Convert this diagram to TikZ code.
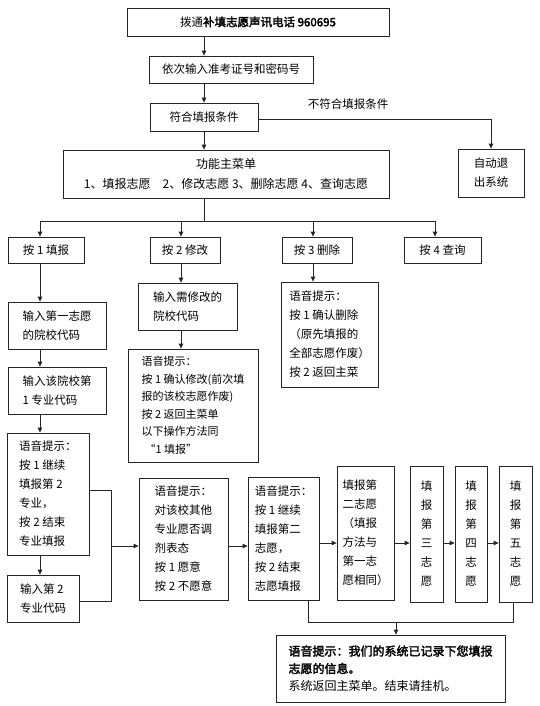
\documentclass[tikz,border=0pt]{standalone}
\usepackage{fontspec}
\setmainfont{Noto Sans CJK SC}[AutoFakeBold=2.5]
\usetikzlibrary{arrows.meta}
\begin{document}
\begin{tikzpicture}[x=1pt,y=-1pt,
  box/.style={draw=black!85, line width=0.8pt, inner sep=0pt, font=\fontsize{11.5}{19}\selectfont},
  lbl/.style={inner sep=0pt, font=\fontsize{11.5}{19}\selectfont},
  arr/.style={draw=black!85, -{Triangle[length=5pt,width=4.5pt]}, line width=0.8pt},
  ln/.style={draw=black!85, line width=0.8pt}]
\useasboundingbox[fill=white] (0,0) rectangle (540,706);

% top chain
\node[box,minimum width=262pt,minimum height=28pt] (top) at (258,22) {拨通\textbf{补填志愿声讯电话 960695}};
\node[box,minimum width=164pt,minimum height=27pt] (input) at (231,69.5) {依次输入准考证号和密码号};
\node[box,minimum width=108pt,minimum height=28pt] (ok) at (204,117) {符合填报条件};
\node[box,minimum width=66pt,minimum height=48pt,align=center] (exit) at (491,173) {自动退\\出系统};
\node[lbl] (nolabel) at (348,104) {不符合填报条件};
\node[box,minimum width=326pt,minimum height=48pt,align=center,font=\fontsize{12}{20}\selectfont] (menu) at (226,174) {功能主菜单\\1、填报志愿\quad 2、修改志愿 3、删除志愿 4、查询志愿};

\draw[arr] (ok |- top.south) -- (ok |- input.north);
\draw[arr] (ok |- input.south) -- (ok.north);
\draw[arr] (ok.south) -- (ok.south |- menu.north);
\coordinate (turn) at (491,119);
\draw[arr] (ok.east |- turn) -- (turn) -- (exit.north);

% buttons
\node[box,minimum width=76pt,minimum height=26pt] (b1) at (46,250) {按 1 填报};
\node[box,minimum width=70pt,minimum height=26pt] (b2) at (185,250) {按 2 修改};
\node[box,minimum width=70pt,minimum height=26pt] (b3) at (317,250) {按 3 删除};
\node[box,minimum width=77pt,minimum height=26pt] (b4) at (442.5,250) {按 4 查询};
\coordinate (split) at (204,221);
\coordinate (h1) at (40,221);
\coordinate (h2) at (181,221);
\coordinate (h3) at (313,221);
\coordinate (h4) at (435,221);
\draw[ln] (split |- menu.south) -- (split);
\draw[ln] (h1) -- (h4);
\draw[arr] (h1) -- (h1 |- b1.north);
\draw[arr] (h2) -- (h2 |- b2.north);
\draw[arr] (h3) -- (h3 |- b3.north);
\draw[arr] (h4) -- (h4 |- b4.north);

% column 1
\node[box,minimum width=98pt,minimum height=47pt,align=left] (c1a) at (57,325.5) {输入第一志愿\\的院校代码};
\node[box,minimum width=98pt,minimum height=47pt,align=left] (c1b) at (57,390.5) {输入该院校第\\1 专业代码};
\node[box,minimum width=82pt,minimum height=122pt,align=left] (c1c) at (48,494) {语音提示：\\按 1 继续\\填报第 2\\专业，\\按 2 结束\\专业填报};
\node[box,minimum width=72pt,minimum height=47pt,align=left] (c1d) at (43,598.5) {输入第 2\\专业代码};
\draw[arr] (b1.south -| h1) -- (c1a.north -| h1);
\draw[arr] (c1a.south -| h1) -- (c1b.north -| h1);
\draw[arr] (c1b.south -| h1) -- (c1c.north -| h1);
\draw[arr] (c1c.south -| h1) -- (c1d.north -| h1);

\node[box,minimum width=89pt,minimum height=122pt,align=left] (c1e) at (183.5,539) {语音提示：\\对该校其他\\专业愿否调\\剂表态\\按 1 愿意\\按 2 不愿意};
\coordinate (j1) at (111,490);
\coordinate (j2) at (111,601);
\coordinate (j3) at (111,546);
\draw[ln] (c1c.east |- j1) -- (j1) -- (j2) -- (c1d.east |- j2);
\draw[arr] (j3) -- (c1e.west |- j3);

\node[box,minimum width=71pt,minimum height=123pt,align=left] (c1f) at (283.5,538.5) {语音提示：\\按 1 继续\\填报第二\\志愿，\\按 2 结束\\志愿填报};
\coordinate (r1) at (0,546);
\draw[arr] (c1e.east |- r1) -- (c1f.west |- r1);

\node[box,minimum width=57pt,minimum height=134pt,align=left] (c2) at (365.5,533) {填报第\\二志愿\\（填报\\方法与\\第一志\\愿相同）};
\node[box,minimum width=33pt,minimum height=136pt,align=center] (c3) at (426.5,534) {填\\报\\第\\三\\志\\愿};
\node[box,minimum width=32pt,minimum height=136pt,align=center] (c4) at (471,534) {填\\报\\第\\四\\志\\愿};
\node[box,minimum width=33pt,minimum height=136pt,align=center] (c5) at (515.5,534) {填\\报\\第\\五\\志\\愿};
\coordinate (r2) at (0,543);
\draw[arr] (c1f.east |- r2) -- (c2.west |- r2);
\draw[arr] (c2.east |- r2) -- (c3.west |- r2);
\draw[arr] (c3.east |- r2) -- (c4.west |- r2);
\draw[arr] (c4.east |- r2) -- (c5.west |- r2);

\node[box,minimum width=229pt,minimum height=67pt,align=left,font=\fontsize{12}{17.5}\selectfont] (fin) at (390.5,668.5) {\textbf{语音提示：我们的系统已记录下您填报}\\\textbf{志愿的信息。}\\系统返回主菜单。结束请挂机。};
\coordinate (bl) at (308,622);
\coordinate (br) at (513,622);
\coordinate (bm) at (396,622);
\draw[ln] (bl |- c1f.south) -- (bl) -- (br) -- (br |- c5.south);
\draw[arr] (bm) -- (bm |- fin.north);

% modify column
\node[box,minimum width=99pt,minimum height=47pt,align=left] (m1) at (187.5,306.5) {输入需修改的\\院校代码};
\node[box,minimum width=130pt,minimum height=113pt,align=left,font=\fontsize{11}{17.5}\selectfont] (m2) at (193,405.5) {语音提示：\\按 1 确认修改(前次填\\报的该校志愿作废)\\按 2 返回主菜单\\以下操作方法同\\\hspace*{3pt}“1 填报”};
\draw[arr] (b2.south -| h2) -- (m1.north -| h2);
\draw[arr] (m1.south -| h2) -- (m2.north -| h2);

% delete column
\node[box,minimum width=97pt,minimum height=105pt,align=left] (d1) at (329.5,334.5) {语音提示：\\按 1 确认删除\\（原先填报的\\全部志愿作废）\\按 2 返回主菜};
\draw[arr] (b3.south -| h3) -- (d1.north -| h3);
\end{tikzpicture}
\end{document}
